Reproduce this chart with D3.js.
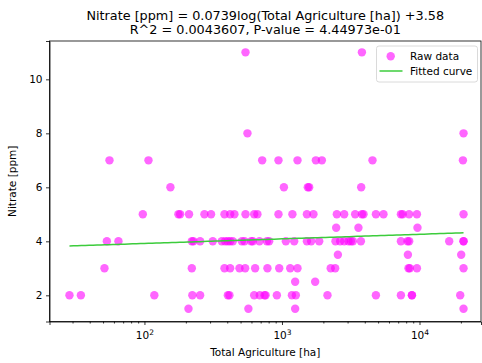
<!DOCTYPE html>
<html>
<head>
<meta charset="utf-8">
<script src="https://cdn.jsdelivr.net/npm/d3@7"></script>
<style>
  html, body { margin: 0; padding: 0; background: #fff; }
  svg text { font-family: "DejaVu Sans", sans-serif; fill: #000; }
</style>
</head>
<body>
<svg id="chart" width="482" height="363"></svg>
<script>
// Total agricultural area [ha] and nitrate [ppm], grouped by nitrate level
const nitrateLevels = [11, 8, 7, 6, 5, 4.5, 4, 3.5, 3, 2.5, 2, 1.5];
const areaByLevel = [
  [543, 3812],
  [561, 20900],
  [55.7, 107, 718, 943, 1297, 1764, 1950, 4552, 20690],
  [154.5, 1033, 1541, 1577, 3767],
  [97.3, 176.6, 181.8, 211, 273, 305, 382, 420, 451, 543, 628, 663, 943, 1191, 1518, 1694,
   2506, 2833, 3405, 3812, 3917, 4820, 5472, 7323, 7550, 8400, 9577, 20900],
  [2478, 3597, 9666],
  [53.3, 64.7, 221, 227, 254, 314, 365, 386, 404, 420, 439, 511, 534, 597, 614, 686, 777, 807,
   1067, 1227, 1518, 1630, 1865, 2450, 2649, 2833, 3045, 3169, 3278, 3749, 7323, 8180, 8414,
   16440, 20900, 20900],
  [2550, 8235, 20100],
  [51.2, 221, 382, 420, 491, 540, 638, 784, 955, 1148, 1297, 2261, 2437, 8318, 8500, 9577, 20900],
  [1247, 1743],
  [28.5, 34.5, 118, 223, 254, 404, 415, 628, 690, 746, 760, 918, 1181, 1261, 2142, 4820, 7323,
   8806, 8806, 19770],
  [209, 570, 1247, 20900]
];

// Fitted model: Nitrate = a*log(Area) + b
const fitA = 0.0739, fitB = 3.58;
const rSquared = "0.0043607", pValue = "4.44973e-01";

const yTicks = [2, 4, 6, 8, 10];
const xTicks = [100, 1000, 10000];
const xTickExps = ["2", "3", "4"];

const points = [];
nitrateLevels.forEach((lvl, i) => areaByLevel[i].forEach(a => points.push({ x: a, y: lvl })));

const svg = d3.select("#chart");
const L = 49.5, R = 481, T = 41, B = 321.5;

const x = d3.scaleLog().domain([20.4, 28000]).range([L, R]);
const y = d3.scaleLinear().domain([1.03, 11.42]).range([B, T]);

// Title
const title = svg.append("text").attr("text-anchor", "middle").style("font-size", "12.8px");
title.append("tspan").attr("x", (L + R) / 2).attr("y", 20)
  .text(`Nitrate [ppm] = ${fitA}log(Total Agriculture [ha]) +${fitB}`);
title.append("tspan").attr("x", (L + R) / 2).attr("y", 34)
  .text(`R^2 = ${rSquared}, P-value = ${pValue}`);

// Scatter points
svg.append("g").selectAll("circle").data(points).join("circle")
  .attr("cx", d => x(d.x)).attr("cy", d => y(d.y)).attr("r", 4.2)
  .attr("fill", "#ff00ff").attr("fill-opacity", 0.6);

// Fitted curve across the observed area range
const [xmin, xmax] = d3.extent(points, d => d.x);
const curve = d3.range(0, 101).map(i => {
  const v = Math.exp(Math.log(xmin) + (Math.log(xmax) - Math.log(xmin)) * i / 100);
  return [v, fitA * Math.log(v) + fitB];
});
svg.append("path").datum(curve)
  .attr("d", d3.line().x(d => x(d[0])).y(d => y(d[1])))
  .attr("fill", "none").attr("stroke", "#3ccc3c").attr("stroke-width", 1.5);

// Axes
const xAxis = svg.append("g").attr("transform", `translate(0,${B})`)
  .call(d3.axisBottom(x).tickValues(xTicks).tickFormat("").tickSize(3.5));
const minor = [];
[10, 100, 1000, 10000].forEach(dec => { for (let k = 2; k <= 9; k++) { const v = dec * k; if (v > 20.4 && v < 28000) minor.push(v); } });
svg.append("g").attr("transform", `translate(0,${B})`)
  .call(d3.axisBottom(x).tickValues(minor).tickFormat("").tickSize(2))
  .call(g => g.select(".domain").remove());
xAxis.selectAll(".tick").each(function (d, i) {
  const t = d3.select(this).append("text").attr("y", 17).attr("text-anchor", "middle").style("font-size", "10.5px");
  t.append("tspan").text("10");
  t.append("tspan").attr("dy", -4).style("font-size", "7.5px").text(xTickExps[i]);
});

svg.append("g").attr("transform", `translate(${L},0)`)
  .call(d3.axisLeft(y).tickValues(yTicks).tickSize(3.5).tickPadding(3.5))
  .call(g => g.selectAll("text").style("font-size", "10.5px").attr("fill", "#000"));

svg.selectAll(".domain").attr("stroke", "#000").attr("stroke-width", 0.8);
svg.selectAll(".tick line").attr("stroke", "#000").attr("stroke-width", 0.8);

// Frame
svg.append("rect").attr("x", L).attr("y", T).attr("width", R - L).attr("height", B - T)
  .attr("fill", "none").attr("stroke", "#000").attr("stroke-width", 0.8);

// Axis labels
svg.append("text").attr("x", (L + R) / 2).attr("y", 356).attr("text-anchor", "middle")
  .style("font-size", "10.5px").text("Total Agriculture [ha]");
svg.append("text").attr("transform", `translate(16,${(T + B) / 2}) rotate(-90)`)
  .attr("text-anchor", "middle").style("font-size", "10.5px").text("Nitrate [ppm]");

// Legend
const lg = svg.append("g");
lg.append("rect").attr("x", 376.5).attr("y", 46).attr("width", 101).attr("height", 36).attr("rx", 2.5)
  .attr("fill", "#fff").attr("fill-opacity", 0.8).attr("stroke", "#d0d0d0").attr("stroke-width", 0.8);
lg.append("circle").attr("cx", 390.7).attr("cy", 56.3).attr("r", 4.2).attr("fill", "#ff00ff").attr("fill-opacity", 0.6);
lg.append("text").attr("x", 410).attr("y", 59.5).style("font-size", "10.5px").text("Raw data");
lg.append("line").attr("x1", 379.5).attr("x2", 402.5).attr("y1", 71).attr("y2", 71)
  .attr("stroke", "#3ccc3c").attr("stroke-width", 1.5);
lg.append("text").attr("x", 410).attr("y", 75).style("font-size", "10.5px").text("Fitted curve");
</script>
</body>
</html>
